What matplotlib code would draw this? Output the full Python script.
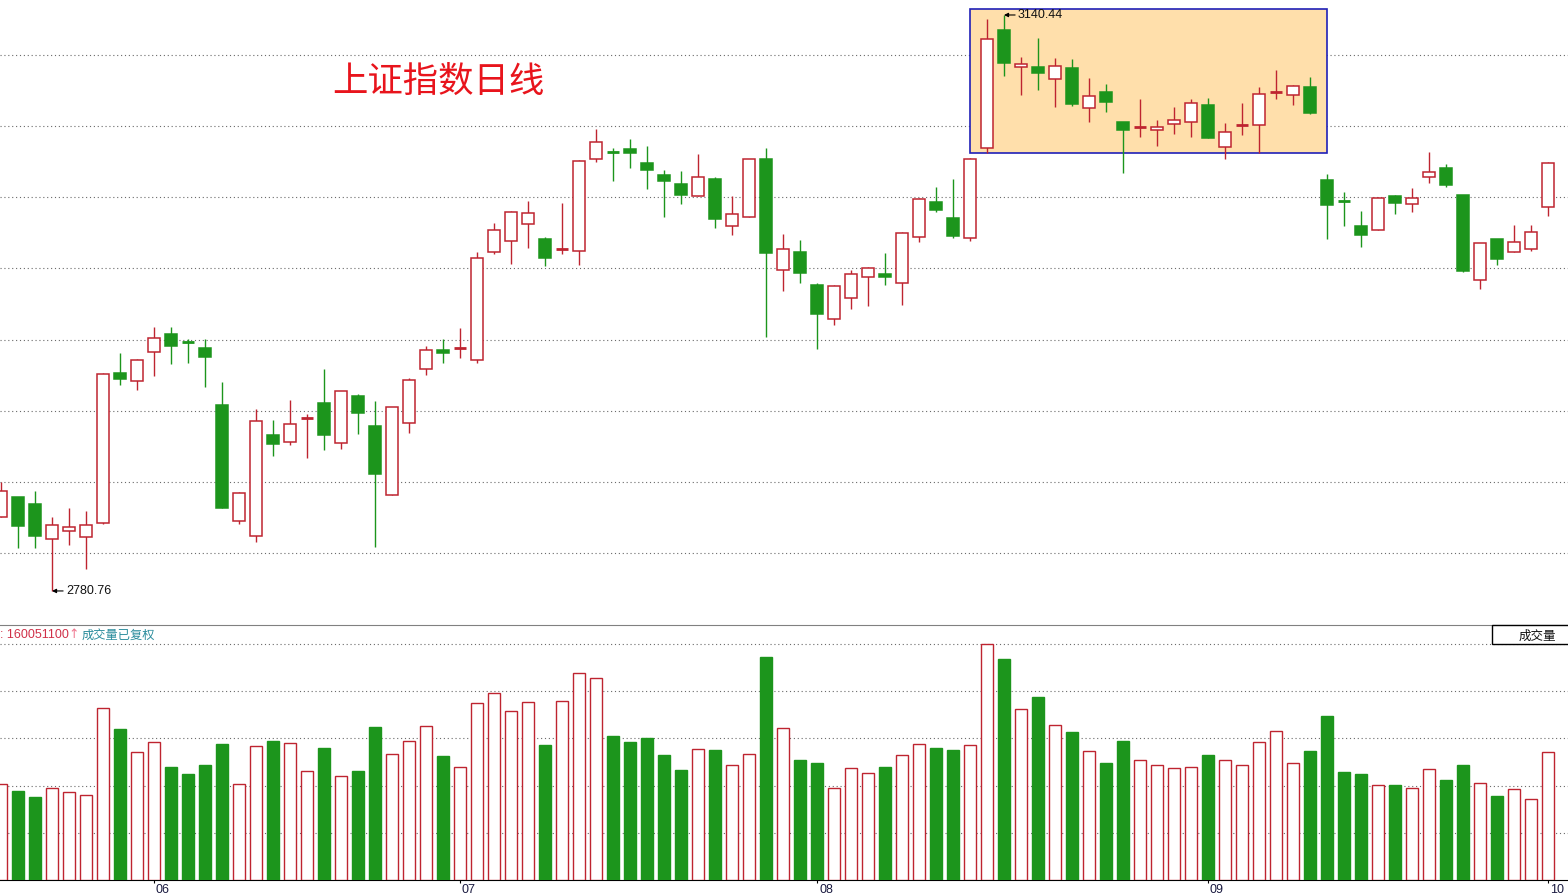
import numpy as np
import matplotlib
matplotlib.use('Agg')
import matplotlib.pyplot as plt
from matplotlib.patches import Rectangle
import matplotlib.transforms as mtransforms

plt.rcParams['font.family'] = ['Liberation Sans', 'Noto Sans CJK SC', 'DejaVu Sans']

# Shanghai Composite daily candles
opens = [2827.0, 2839.4, 2835.1, 2813.2, 2818.2, 2814.5, 2823.2, 2916.9, 2911.9, 2930.0,
         2941.2, 2936.2, 2932.5, 2896.9, 2824.5, 2815.1, 2878.2, 2873.8, 2888.8, 2898.2,
         2873.2, 2902.5, 2883.8, 2840.7, 2885.7, 2919.4, 2931.2, 2932.5, 2925.0, 2992.4,
         2999.3, 3009.9, 3000.6, 2994.3, 2993.1, 3050.5, 3054.9, 3056.7, 3048.0, 3040.5,
         3034.9, 3027.4, 3038.0, 3008.7, 3014.3, 3050.5, 2981.2, 2992.4, 2971.8, 2950.6,
         2963.7, 2976.8, 2978.7, 2973.1, 3001.8, 3023.7, 3013.7, 3001.2, 3057.4, 3131.0,
         3107.9, 3107.9, 3100.5, 3107.3, 3082.3, 3092.3, 3073.6, 3070.5, 3068.6, 3072.4,
         3073.6, 3084.2, 3058.0, 3071.7, 3071.7, 3092.3, 3090.5, 3095.5, 3037.4, 3024.3,
         3008.7, 3006.2, 3027.4, 3022.4, 3039.3, 3044.9, 3028.0, 2975.0, 3000.6, 2992.4,
         2994.3, 3020.5]
highs = [2848.8, 2839.4, 2843.2, 2827.0, 2832.6, 2830.7, 2916.9, 2929.4, 2925.6, 2945.6,
         2945.6, 2938.1, 2938.1, 2911.3, 2842.6, 2894.4, 2887.5, 2900.0, 2891.3, 2919.4,
         2905.6, 2903.8, 2899.4, 2895.6, 2913.8, 2933.7, 2938.1, 2945.0, 2992.4, 3010.5,
         3018.0, 3024.3, 3001.8, 3023.0, 3049.9, 3069.2, 3057.4, 3063.0, 3058.6, 3043.6,
         3043.0, 3053.6, 3039.3, 3027.4, 3050.5, 3057.4, 3003.7, 2999.9, 2973.1, 2971.8,
         2981.2, 2983.1, 2991.8, 3004.9, 3026.1, 3033.0, 3038.0, 3051.1, 3137.9, 3140.44,
         3114.2, 3126.1, 3113.6, 3112.9, 3101.1, 3097.3, 3073.6, 3088.0, 3074.9, 3083.0,
         3088.0, 3088.6, 3073.0, 3085.5, 3095.5, 3106.1, 3096.7, 3101.7, 3041.1, 3029.9,
         3018.0, 3026.8, 3028.0, 3032.4, 3054.9, 3047.4, 3028.0, 2998.1, 3000.6, 3009.3,
         3009.3, 3048.6]
lows = [2827.0, 2807.6, 2807.6, 2780.76, 2809.5, 2794.5, 2822.6, 2909.4, 2906.3, 2915.0,
        2922.5, 2923.1, 2908.1, 2832.6, 2822.6, 2811.4, 2865.1, 2871.9, 2863.8, 2868.8,
        2869.4, 2878.8, 2808.2, 2840.7, 2879.4, 2915.6, 2923.1, 2926.2, 2923.1, 2991.2,
        2984.9, 2994.9, 2983.7, 2991.2, 2984.3, 3048.6, 3036.8, 3044.9, 3031.8, 3014.3,
        3022.4, 3027.4, 3007.4, 3003.1, 3014.3, 2939.4, 2968.1, 2973.1, 2931.9, 2946.9,
        2956.8, 2958.7, 2971.8, 2959.3, 2998.7, 3017.4, 3001.2, 2999.3, 3054.2, 3102.3,
        3090.5, 3093.6, 3083.0, 3083.6, 3073.6, 3079.9, 3041.8, 3064.2, 3058.6, 3066.1,
        3064.2, 3063.6, 3050.5, 3065.5, 3054.2, 3088.0, 3084.2, 3078.6, 3000.6, 3008.7,
        2995.6, 3006.2, 3016.2, 3017.4, 3035.5, 3033.0, 2979.9, 2969.3, 2984.3, 2992.4,
        2993.1, 3014.9]
closes = [2843.2, 2821.4, 2815.1, 2822.0, 2820.7, 2822.0, 2916.3, 2913.1, 2925.0, 2938.7,
          2933.7, 2936.0, 2926.9, 2832.6, 2842.0, 2886.9, 2872.6, 2885.0, 2888.8, 2878.2,
          2905.6, 2891.9, 2853.8, 2895.6, 2912.5, 2931.2, 2929.4, 2932.5, 2988.7, 3006.2,
          3017.4, 3016.8, 2988.7, 2994.3, 3049.3, 3061.1, 3054.7, 3054.2, 3043.6, 3036.8,
          3028.0, 3039.3, 3013.0, 3016.2, 3050.5, 2991.8, 2994.3, 2979.3, 2953.7, 2971.2,
          2978.7, 2982.4, 2976.8, 3004.3, 3025.5, 3018.7, 3002.4, 3050.5, 3125.4, 3110.4,
          3109.8, 3104.2, 3108.6, 3084.8, 3089.8, 3086.1, 3068.6, 3070.5, 3070.5, 3074.9,
          3085.5, 3063.6, 3067.4, 3071.7, 3091.1, 3092.3, 3096.1, 3079.2, 3021.8, 3024.1,
          3003.1, 3026.1, 3023.0, 3026.1, 3042.4, 3034.3, 2980.6, 2998.1, 2988.1, 2998.7,
          3004.9, 3048.0]
# volume, million shares
volumes = [121.0, 112.2, 104.6, 115.9, 110.9, 107.1, 215.5, 189.0, 160.1, 172.6,
           142.4, 133.6, 143.7, 170.1, 121.0, 167.6, 173.9, 171.4, 137.4, 165.1,
           131.1, 137.4, 191.6, 157.5, 173.9, 192.8, 155.0, 142.4, 221.8, 234.4,
           211.7, 223.1, 168.9, 224.3, 259.6, 253.3, 180.2, 172.6, 177.7, 156.3,
           138.6, 163.8, 162.6, 144.9, 157.5, 279.8, 190.3, 151.2, 147.4, 115.9,
           141.1, 134.8, 142.4, 156.3, 170.1, 165.1, 162.6, 168.9, 296.1, 277.2,
           214.2, 229.4, 194.1, 185.2, 161.3, 146.2, 173.9, 150.0, 144.9, 141.1,
           142.4, 156.3, 151.2, 144.9, 172.6, 186.5, 146.2, 161.3, 205.4, 136.1,
           133.6, 119.7, 119.7, 115.9, 139.9, 126.0, 144.9, 122.2, 105.9, 114.7,
           102.1, 160.0511]
month_pos = [9, 27, 48, 71, 91]
month_labels = ['06', '07', '08', '09', '10']
price_grid = [2804.5, 2848.8, 2893.1, 2937.5, 2982.4, 3026.8, 3071.1, 3115.4]
vol_grid = [59.2, 118.4, 177.6, 236.8, 296.0]
hl_first, hl_last = 57, 78        # shaded window
hl_low, hl_high = 3054.2, 3144.2

W, H = 1568, 896
fig = plt.figure(figsize=(W / 100, H / 100), dpi=100)

def px_axes(top, bottom):
    return fig.add_axes([0, 1 - bottom / H, 1, (bottom - top) / H])

ax = px_axes(0, 625)
axv = px_axes(625, 880)

red = '#be2430'
green = '#1c951c'
grid_col = '#6a6a6a'
body_w = 0.72

o, h, l, c = map(np.array, (opens, highs, lows, closes))
x = np.arange(len(o))
up = c >= o

for a in (ax, axv):
    a.set_xlim(-1 / 17, 1567 / 17)
    a.set_yticks([])
    a.set_facecolor('white')

# price panel
ax.set_ylim(2759.5, 3149.8)
for s in ax.spines.values():
    s.set_visible(False)
ax.set_xticks([])
for g in price_grid:
    ax.axhline(g, color=grid_col, lw=0.8, ls=(0, (1, 2.5)), zorder=0)

ax.add_patch(Rectangle((hl_first, hl_low), hl_last - hl_first, hl_high - hl_low,
                       facecolor='#ffdfab', edgecolor='#2020b8', lw=1.2, zorder=1))

ax.vlines(x, l, h, colors=np.where(up, red, green), lw=1.0, zorder=3)
for i in x:
    col = red if up[i] else green
    if abs(c[i] - o[i]) < 0.8:
        ax.hlines((o[i] + c[i]) / 2, i - body_w / 2, i + body_w / 2, colors=col, lw=2, zorder=4)
    else:
        ax.add_patch(Rectangle((i - body_w / 2, min(o[i], c[i])), body_w, abs(c[i] - o[i]),
                               facecolor='white' if up[i] else green, edgecolor=col,
                               lw=1.1, zorder=4))

i_hi = int(np.argmax(h))
i_lo = int(np.argmin(l))
for idx, val in ((i_hi, h[i_hi]), (i_lo, l[i_lo])):
    ax.annotate('%.2f' % val, xy=(idx, val), xytext=(10, 0), textcoords='offset points',
                ha='left', va='center', fontsize=9, color='#111111',
                arrowprops=dict(arrowstyle='-|>', color='black', lw=0.8,
                                shrinkA=0, shrinkB=0, mutation_scale=6), zorder=6)

fig.text(332 / W, 1 - 82 / H, '上证指数日线', color='#e8141c', fontsize=25.5,
         family=['Noto Sans CJK SC'], ha='left', va='center')

# volume panel
axv.set_ylim(0, 320)
for g in vol_grid:
    axv.axhline(g, color=grid_col, lw=0.8, ls=(0, (1, 2.5)), zorder=0)
axv.bar(x, volumes, width=body_w, color=np.where(up, 'white', green),
        edgecolor=np.where(up, red, green), lw=1.0, zorder=3)
axv.spines['left'].set_visible(False)
axv.spines['right'].set_visible(False)
axv.spines['top'].set_color('#808080')
axv.spines['bottom'].set_color('black')
axv.set_xticks(month_pos)
axv.set_xticklabels(month_labels)
axv.tick_params(axis='x', direction='out', length=2.5, width=0.8, pad=0.5,
                labelsize=9, labelcolor='#1a1a40')
offset = mtransforms.ScaledTranslation(2 / 100, 0, fig.dpi_scale_trans)
for lab in axv.get_xticklabels():
    lab.set_horizontalalignment('left')
    lab.set_transform(lab.get_transform() + offset)

fig.text(0, 1 - 635 / H, ': %d' % round(volumes[-1] * 1e6), color='#d03048',
         fontsize=9, ha='left', va='center')
fig.text(68 / W, 1 - 635 / H, '↑', color='#f07890', fontsize=9,
         family=['DejaVu Sans'], ha='left', va='center')
fig.text(82 / W, 1 - 635 / H, '成交量已复权', color='#2a8c9c', fontsize=8.8,
         family=['Noto Sans CJK SC'], ha='left', va='center')

fig.patches.append(Rectangle((1492 / W, 1 - 644 / H), 80 / W, 19 / H, transform=fig.transFigure,
                             facecolor='white', edgecolor='black', lw=1.0, zorder=5))
fig.text(1556 / W, 1 - 636 / H, '成交量', fontsize=9, color='#111111',
         family=['Noto Sans CJK SC'], ha='right', va='center', zorder=6)

fig.savefig('out.png', dpi=100)
